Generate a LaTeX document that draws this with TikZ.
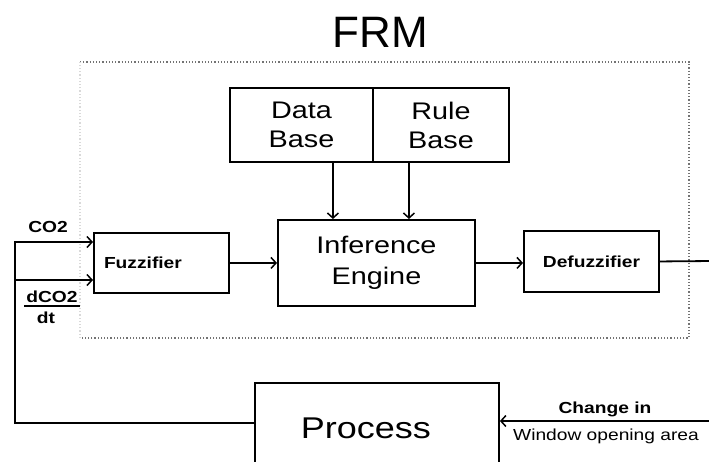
\documentclass[tikz,border=0pt]{standalone}
\usepackage{fontspec}
\setmainfont{Liberation Sans}[FakeStretch=1.2]
\newfontfamily\titlefont{Liberation Sans}
\usetikzlibrary{arrows.meta}
\begin{document}
\begin{tikzpicture}[x=1pt,y=-1pt,
  blk/.style={draw,line width=1.9pt,inner sep=0pt,anchor=north west,align=center},
  lbl/.style={font=\bfseries\fontsize{16}{19}\selectfont,inner sep=0pt,anchor=base},
  big/.style={font=\fontsize{24}{29}\selectfont},
  conn/.style={line width=1.8pt},
  arr/.style={conn,-{Straight Barb[length=5pt,width=11pt,line width=1.5pt]}},
  framestyle/.style={black!55,dotted,line width=1.2pt}]
\useasboundingbox (0,0) rectangle (709,461);
\clip (0,0) rectangle (709,461);

% title
\node[font=\titlefont\fontsize{44}{50}\selectfont,anchor=base,inner sep=0pt] (title) at (380,47) {FRM};

% dotted frame
\coordinate (f1) at (80,62);
\coordinate (f2) at (689,62);
\coordinate (f3) at (689,338);
\coordinate (f4) at (80,338);
\draw[framestyle] (f1) -- (f2) -- (f3) -- (f4);
\draw[black!15,dotted,line width=1.2pt] (f4) -- (f1);

% blocks
\node[blk,big,minimum width=143pt,minimum height=74pt] (db) at (229,87) {Data\\Base};
\node[blk,big,minimum width=136pt,minimum height=74pt] (rb) at (372,87) {Rule\\Base};
\node[blk,font=\fontsize{24}{31}\selectfont,minimum width=197pt,minimum height=86pt] (ie) at (277,219) {Inference\\Engine};
\node[blk,font=\bfseries\fontsize{16}{19}\selectfont,minimum width=135pt,minimum height=60pt] (fz) at (93,232) {Fuzzifier\hspace*{37pt}};
\node[blk,font=\bfseries\fontsize{16}{19}\selectfont,minimum width=135pt,minimum height=61pt] (dz) at (523,230) {Defuzzifier};
\node[blk,font=\fontsize{30}{36}\selectfont,minimum width=244pt,minimum height=90pt] (pr) at (254,382) {\raisebox{-4pt}{Process}\hspace*{22pt}};

% connectors
\draw[arr] ([xshift=31.5pt]db.south) -- ([xshift=31.5pt]db.south |- ie.north);
\draw[arr] ([xshift=-32pt]rb.south) -- ([xshift=-32pt]rb.south |- ie.north);
\draw[arr] (fz.east) -- (fz.east -| ie.west);
\draw[arr] (ie.east) -- (ie.east -| dz.west);
\coordinate (out) at (712,261);
\draw[conn] (dz.east) -- (out);
\coordinate (win) at (712,421);
\draw[arr] (win) -- (win -| pr.east);
\coordinate (fb) at (15,423);
\coordinate (c1) at (15,242);
\coordinate (c2) at (15,280);
\draw[arr] (pr.west |- fb) -- (fb) -- (c1) -- (c1 -| fz.west);
\draw[arr] (c2) -- (c2 -| fz.west);

% labels
\node[lbl] (co2) at (48,232) {CO2};
\node[lbl] (dco2) at (52,302) {dCO2};
\coordinate (b1) at (24,306);
\coordinate (b2) at (80,306);
\draw[line width=1.6pt] (b1) -- (b2);
\node[lbl] (dt) at (46,323) {dt};
\node[lbl] (chg) at (605,413) {Change in};
\node[lbl,font=\fontsize{16}{19}\selectfont] (woa) at (606,440) {Window opening area};
\end{tikzpicture}
\end{document}
